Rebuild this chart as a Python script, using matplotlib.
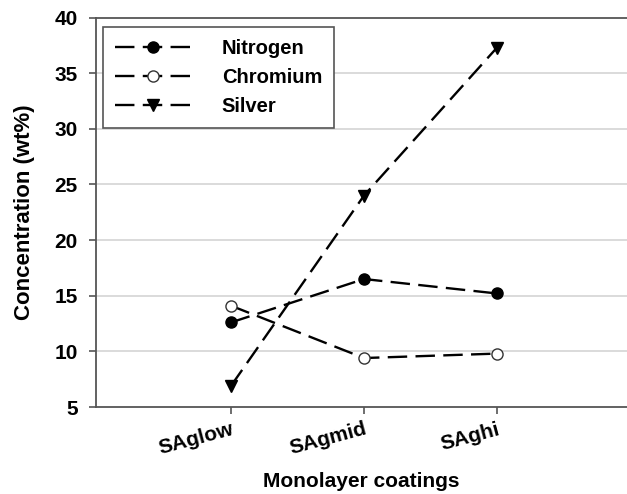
import numpy as np
import matplotlib.pyplot as plt

plt.rcParams['font.family'] = ['Liberation Sans', 'DejaVu Sans']
plt.rcParams['font.weight'] = 'bold'
plt.rcParams['lines.scale_dashes'] = False

# data
coatings = ['SAglow', 'SAgmid', 'SAghi']
nitrogen = [12.6, 16.5, 15.2]
chromium = [14.1, 9.4, 9.8]
silver = [6.9, 24.0, 37.3]
yticks = [5, 10, 15, 20, 25, 30, 35, 40]

fig = plt.figure(figsize=(6.27, 4.94), dpi=100)
ax = fig.add_axes([96/627, 87/494, 1 - 96/627, (407 - 17.5)/494])

x = np.arange(1, len(coatings) + 1)
dash = (0, (14, 6))

# gridlines behind the data
for yv in yticks[1:-1]:
    ax.axhline(yv, color='#d4d4d4', lw=1.2, zorder=0)

ax.plot(x, nitrogen, color='black', lw=1.7, linestyle=dash, marker='o',
        ms=8, mfc='black', mec='black', label='Nitrogen', zorder=3)
ax.plot(x, chromium, color='black', lw=1.7, linestyle=dash, marker='o',
        ms=8, mfc='white', mec='#333333', mew=1.0, label='Chromium', zorder=3)
ax.plot(x, silver, color='black', lw=1.7, linestyle=dash, marker='v',
        ms=8, mfc='black', mec='black', label='Silver', zorder=3)

ax.set_xlim(-0.015, 3.977)
ax.set_ylim(5, 40)
ax.set_yticks(yticks)
ax.set_xticks(x)
ax.set_xticklabels(coatings, rotation=15, ha='right', rotation_mode='anchor')

for s in ['left', 'bottom', 'top']:
    ax.spines[s].set_color('#555555')
    ax.spines[s].set_linewidth(1.3)
ax.spines['right'].set_visible(False)

ax.tick_params(axis='both', direction='out', length=5, width=1.2, color='#555555',
               labelsize=15, pad=8)
ax.tick_params(axis='x', pad=4)

ax.set_xlabel('Monolayer coatings', fontsize=15, fontweight='bold', labelpad=10)
ax.set_ylabel('Concentration (wt%)', fontsize=16, fontweight='bold', labelpad=14)

leg = ax.legend(loc='upper left', bbox_to_anchor=(0.013, 0.9756), borderaxespad=0,
                fontsize=14.5, handlelength=3.8, handletextpad=1.5, labelspacing=0.5,
                borderpad=0.6, fancybox=False, framealpha=1, edgecolor='#555555')
leg.get_frame().set_linewidth(1.2)

fig.savefig('out.png', dpi=100)
